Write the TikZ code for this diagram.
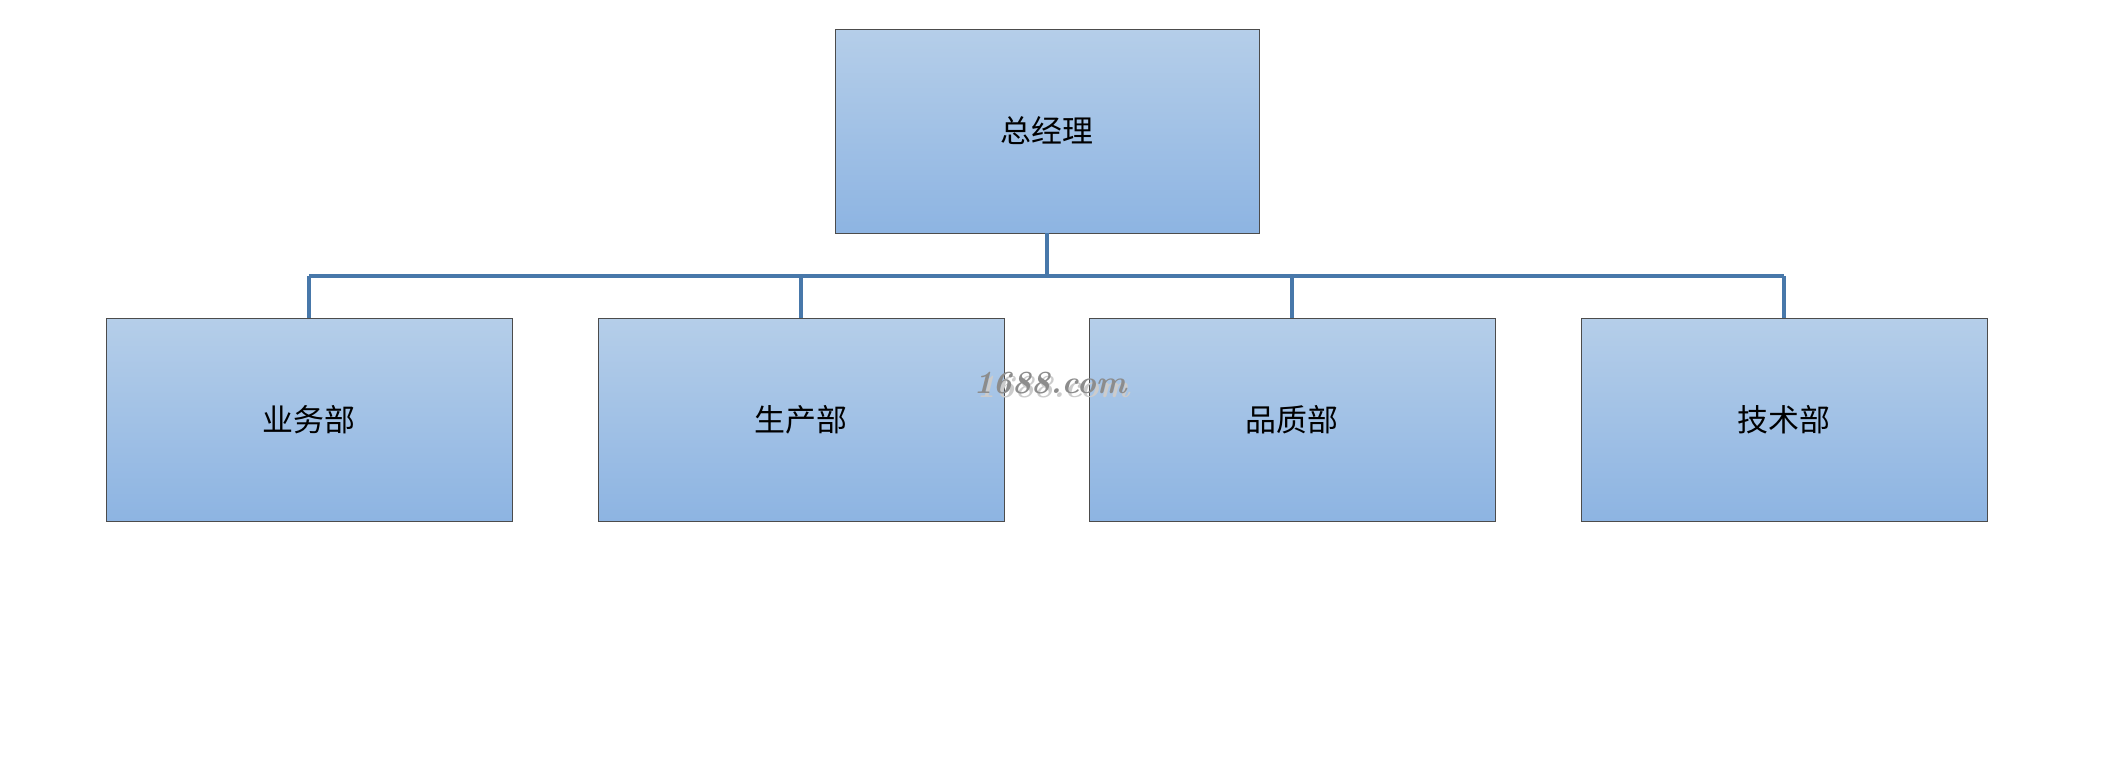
\documentclass[tikz,border=0pt]{standalone}
\usepackage{fontspec}
\newfontfamily\cjk{Noto Sans CJK SC}
\usetikzlibrary{positioning,calc}
\definecolor{boxtop}{HTML}{B5CEE9}
\definecolor{boxbot}{HTML}{8DB4E2}
\definecolor{linkblue}{HTML}{4878AA}

\begin{document}
\begin{tikzpicture}[x=0.05cm, y=-0.05cm,
  unit/.style={rectangle, draw=black!70, line width=1.2pt, top color=boxtop, bottom color=boxbot,
    minimum width=20.3cm, minimum height=10.15cm, inner sep=0pt, font=\cjk\fontsize{44}{48}\selectfont},
  boss/.style={unit, minimum width=21.2cm, minimum height=10.2cm},
  link/.style={draw=linkblue, line width=5pt},
  wmark/.style={font=\itshape\bfseries\fontsize{46}{50}\selectfont}]
  \useasboundingbox (0,0) rectangle (2101,761);
  % top
  \node[boss] (gm) at (1047,131) {总经理};
  \coordinate (bus) at (1047,276);
  % departments
  \foreach \i/\xx/\name in {1/309/业务部, 2/801/生产部, 3/1292/品质部, 4/1784/技术部} {
    \node[unit] (d\i) at (\xx,419.5) {\name};
    \coordinate (j\i) at (\xx,276);
  }
  \draw[link] (gm.south) -- (bus);
  \draw[link] (j1) -- (j4);
  \foreach \i in {1,...,4} {
    \draw[link] (j\i) -- (d\i.north);
  }
  % watermark
  \node[wmark, black!20] at (1053,387) {1688.com};
  \node[wmark, black!45] (wm) at (1050,383) {1688.com};
\end{tikzpicture}
\end{document}
